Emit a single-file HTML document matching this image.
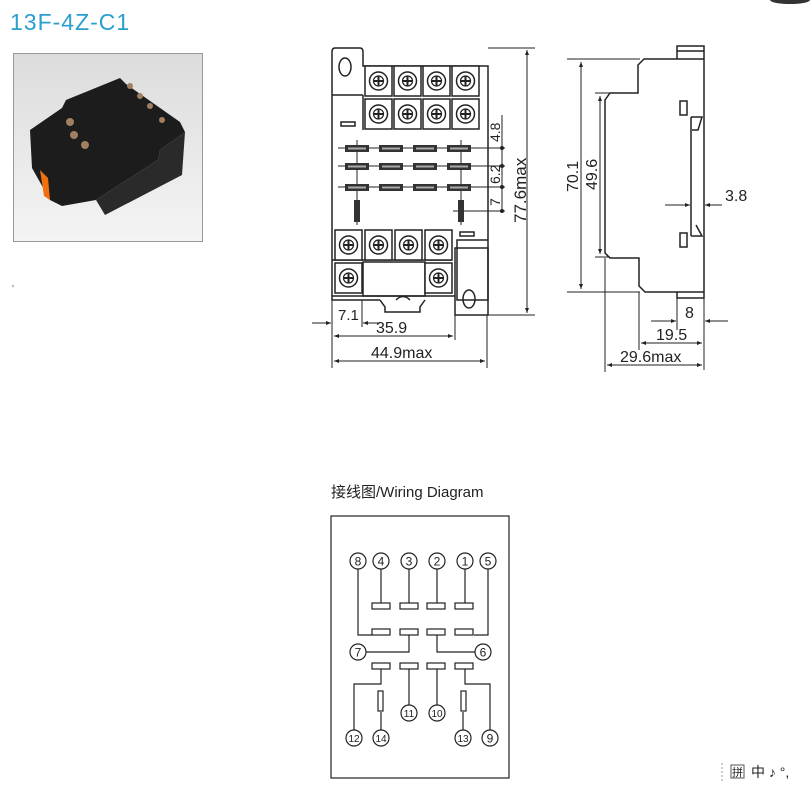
<!DOCTYPE html>
<html><head><meta charset="utf-8"><style>
html,body{margin:0;padding:0;background:#fff;}
svg{display:block;}
text{font-family:"Liberation Sans","Noto Sans CJK SC",sans-serif;}
</style></head><body>
<svg width="810" height="790" viewBox="0 0 810 790" xmlns="http://www.w3.org/2000/svg">
<defs>
<marker id="a" viewBox="0 0 10 10" refX="10" refY="5" markerWidth="7" markerHeight="5" orient="auto-start-reverse"><path d="M0,1 L10,5 L0,9 z" fill="#222"/></marker>
<linearGradient id="bg" x1="0" y1="0" x2="0" y2="1"><stop offset="0" stop-color="#dcdcdc"/><stop offset="1" stop-color="#f4f4f4"/></linearGradient>
<g id="scr"><rect x="0" y="0" width="27" height="30" fill="#fff" stroke="#222" stroke-width="1.5"/><circle cx="13.5" cy="15" r="9" fill="#fff" stroke="#222" stroke-width="1.5"/><circle cx="13.5" cy="15" r="5" fill="none" stroke="#222" stroke-width="1.2"/><path d="M9,15h9M13.5,10.5v9" stroke="#222" stroke-width="2"/></g>
<g id="slot"><rect x="0" y="0" width="24" height="7" fill="#333"/><rect x="3" y="2.5" width="18" height="2" fill="#aaa"/></g>
</defs>
<ellipse cx="790" cy="0" rx="20" ry="4" fill="#333"/>
<text x="10" y="30" font-size="23" fill="#2a9fd0" letter-spacing="1">13F-4Z-C1</text>
<!-- photo -->
<rect x="13.5" y="53.5" width="189" height="188" fill="url(#bg)" stroke="#999"/>
<polygon points="30,130 62,108 66,100 120,78 126,84 180,122 185,132 160,150 158,160 108,192 96,200 62,206 50,200 32,168" fill="#1c1c1c"/>
<polygon points="96,200 108,192 158,160 160,150 185,132 182,175 105,215" fill="#2a2a2a"/>
<polygon points="40,170 48,178 50,200 44,196" fill="#f07010"/>
<circle cx="70" cy="122" r="4" fill="#a08060"/><circle cx="74" cy="135" r="4" fill="#a08060"/><circle cx="85" cy="145" r="4" fill="#a08060"/><circle cx="130" cy="86" r="3" fill="#a08060"/><circle cx="140" cy="96" r="3" fill="#a08060"/><circle cx="150" cy="106" r="3" fill="#a08060"/><circle cx="162" cy="120" r="3" fill="#a08060"/>
<text x="12" y="292" font-size="10" fill="#555">'</text>
<!-- front view -->
<g fill="none" stroke="#222" stroke-width="1.5">
<path d="M335,48 H360 Q363,48 363,52 V66 H488 V300 H457 V240 H488"/>
<path d="M332,52 Q332,48 335,48 M332,52 V300 H380"/>
<path d="M363,95 V130 M332,95 H363"/>
<ellipse cx="345" cy="67" rx="6" ry="9"/>
<rect x="341" y="122" width="14" height="4"/>
<rect x="460" y="232" width="14" height="4"/>
<rect x="455" y="248" width="33" height="67"/>
<ellipse cx="469" cy="299" rx="6" ry="9"/>
<path d="M380,300 L385,307 V312 H420 V307 L425,300 M396,300 Q403,293 410,300"/>
<path d="M332,260 H452 M332,296 H455"/>
<rect x="363" y="262" width="62" height="34"/>
</g>
<use href="#scr" x="365" y="66"/><use href="#scr" x="394" y="66"/><use href="#scr" x="423" y="66"/><use href="#scr" x="452" y="66"/>
<use href="#scr" x="365" y="99"/><use href="#scr" x="394" y="99"/><use href="#scr" x="423" y="99"/><use href="#scr" x="452" y="99"/>
<use href="#scr" x="335" y="230"/><use href="#scr" x="365" y="230"/><use href="#scr" x="395" y="230"/><use href="#scr" x="425" y="230"/>
<use href="#scr" x="335" y="263"/><use href="#scr" x="425" y="263"/>
<g stroke="#222" stroke-width="1" fill="none">
<path d="M338,148 H505 M338,166 H505 M338,187 H505 M453,211 H505"/>
<path d="M357,140 V225 M461,140 V225"/>
</g>
<use href="#slot" x="345" y="145"/><use href="#slot" x="379" y="145"/><use href="#slot" x="413" y="145"/><use href="#slot" x="447" y="145"/>
<use href="#slot" x="345" y="163"/><use href="#slot" x="379" y="163"/><use href="#slot" x="413" y="163"/><use href="#slot" x="447" y="163"/>
<use href="#slot" x="345" y="184"/><use href="#slot" x="379" y="184"/><use href="#slot" x="413" y="184"/><use href="#slot" x="447" y="184"/>
<rect x="354" y="200" width="6" height="22" fill="#333"/><rect x="458" y="200" width="6" height="22" fill="#333"/>
<g stroke="#222" stroke-width="1" fill="none">
<path d="M502,115 V212"/>
<path d="M488,48 H535 M488,315 H535"/>
<path d="M527,50 V313" marker-start="url(#a)" marker-end="url(#a)"/>
<path d="M332,300 V368 M362,300 V327 M487,315 V368 M455,315 V340"/>
<path d="M312,323 H331" marker-end="url(#a)"/><path d="M380,323 H363" marker-end="url(#a)"/>
<path d="M334,336 H453" marker-start="url(#a)" marker-end="url(#a)"/>
<path d="M334,361 H485" marker-start="url(#a)" marker-end="url(#a)"/>
</g>
<g fill="#222"><circle cx="502" cy="148" r="2"/><circle cx="502" cy="166" r="2"/><circle cx="502" cy="187" r="2"/><circle cx="502" cy="211" r="2"/></g>
<g font-size="14" fill="#222">
<text transform="translate(500,142) rotate(-90)">4.8</text>
<text transform="translate(500,184) rotate(-90)">6.2</text>
<text transform="translate(500,206) rotate(-90)">7</text>
<text transform="translate(526,223) rotate(-90)" font-size="17">77.6max</text>
<text x="338" y="320" font-size="15">7.1</text>
<text x="376" y="333" font-size="16">35.9</text>
<text x="371" y="358" font-size="16">44.9max</text>
</g>
<!-- side view -->
<g fill="none" stroke="#222" stroke-width="1.5">
<path d="M677,59 V46 H704 V298 H677 V292 H645 L639,286 V258 H610 L605,253 V100 L610,93 H638 V65 L644,59 H704"/>
<path d="M677,51 H704 M677,292 H704"/>
<path d="M691,117 V236"/>
<path d="M691,117 H702 L698,130 H692 M691,236 H702 L696,225"/>
<rect x="680" y="101" width="7" height="14"/>
<rect x="680" y="233" width="7" height="14"/>
</g>
<g stroke="#222" stroke-width="1" fill="none">
<path d="M567,59 H640 M567,292 H640 M595,93 H610 M595,257 H610"/>
<path d="M581,62 V289" marker-start="url(#a)" marker-end="url(#a)"/>
<path d="M600,96 V254" marker-start="url(#a)" marker-end="url(#a)"/>
<path d="M665,205 H690" marker-end="url(#a)"/><path d="M722,205 H705" marker-end="url(#a)"/>
<path d="M704,197 V370 M677,298 V330 M639,292 V350 M605,258 V372"/>
<path d="M651,321 H676" marker-end="url(#a)"/><path d="M728,321 H705" marker-end="url(#a)"/>
<path d="M641,343 H702" marker-start="url(#a)" marker-end="url(#a)"/>
<path d="M607,365 H702" marker-start="url(#a)" marker-end="url(#a)"/>
</g>
<g font-size="16" fill="#222">
<text transform="translate(578,192) rotate(-90)">70.1</text>
<text transform="translate(597,190) rotate(-90)">49.6</text>
<text x="725" y="201">3.8</text>
<text x="685" y="318">8</text>
<text x="656" y="340">19.5</text>
<text x="620" y="362">29.6max</text>
</g>
<!-- wiring -->
<text x="331" y="497" font-size="15" fill="#222">接线图/Wiring Diagram</text>
<rect x="331" y="516" width="178" height="262" fill="none" stroke="#222" stroke-width="1.2"/>
<g fill="none" stroke="#222" stroke-width="1.2">
<path d="M381,569 V603 M409,569 V603 M437,569 V603 M465,569 V603"/>
<path d="M358,569 V635 H372 M488,569 V635 H474"/>
<path d="M366,652 H409 V635 M475,652 H437 V635"/>
<path d="M354,730 V684 H381 V669 M409,669 V705 M437,669 V705 M490,730 V684 H465 V669"/>
<path d="M381,712 V730 M463,712 V730"/>
<rect x="372" y="603" width="18" height="6"/><rect x="400" y="603" width="18" height="6"/><rect x="427" y="603" width="18" height="6"/><rect x="455" y="603" width="18" height="6"/>
<rect x="372" y="629" width="18" height="6"/><rect x="400" y="629" width="18" height="6"/><rect x="427" y="629" width="18" height="6"/><rect x="455" y="629" width="18" height="6"/>
<rect x="372" y="663" width="18" height="6"/><rect x="400" y="663" width="18" height="6"/><rect x="427" y="663" width="18" height="6"/><rect x="455" y="663" width="18" height="6"/>
<rect x="378" y="691" width="5" height="20"/><rect x="461" y="691" width="5" height="20"/>
</g>
<g fill="#fff" stroke="#222" stroke-width="1.2">
<circle cx="358" cy="561" r="8"/><circle cx="381" cy="561" r="8"/><circle cx="409" cy="561" r="8"/><circle cx="437" cy="561" r="8"/><circle cx="465" cy="561" r="8"/><circle cx="488" cy="561" r="8"/>
<circle cx="358" cy="652" r="8"/><circle cx="483" cy="652" r="8"/>
<circle cx="409" cy="713" r="8"/><circle cx="437" cy="713" r="8"/>
<circle cx="354" cy="738" r="8"/><circle cx="381" cy="738" r="8"/><circle cx="463" cy="738" r="8"/><circle cx="490" cy="738" r="8"/>
</g>
<g font-size="12" fill="#222" text-anchor="middle">
<text x="358" y="565.5">8</text><text x="381" y="565.5">4</text><text x="409" y="565.5">3</text><text x="437" y="565.5">2</text><text x="465" y="565.5">1</text><text x="488" y="565.5">5</text>
<text x="358" y="656.5">7</text><text x="483" y="656.5">6</text>
<text x="409" y="717" font-size="10">11</text><text x="437" y="717" font-size="10">10</text>
<text x="354" y="742" font-size="10">12</text><text x="381" y="742" font-size="10">14</text><text x="463" y="742" font-size="10">13</text><text x="490" y="742.5">9</text>
</g>
<path d="M722,763 V782" stroke="#999" stroke-dasharray="2,2"/>
<rect x="731" y="765" width="13" height="13" fill="none" stroke="#555"/>
<text x="732" y="776" font-size="11" fill="#222">拼</text>
<text x="751" y="777" font-size="14" fill="#222">中 ♪ °,</text>
</svg>
</body></html>
